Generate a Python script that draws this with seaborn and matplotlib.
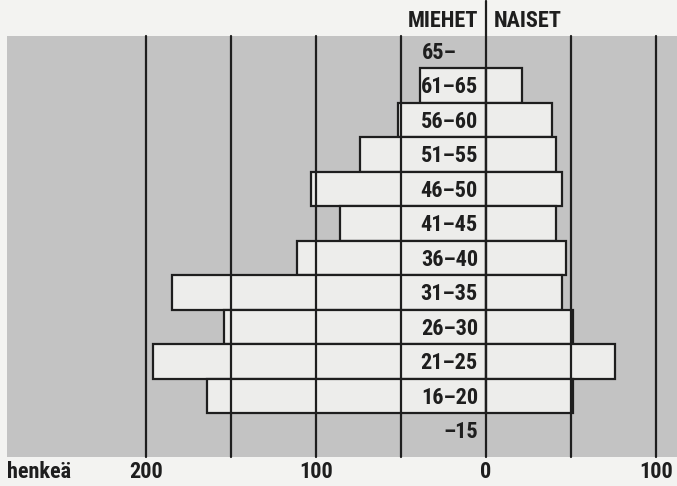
import pandas as pd
import seaborn as sns
import matplotlib.pyplot as plt

# Age groups from the top of the pyramid down
ages = ["65–", "61–65", "56–60", "51–55", "46–50", "41–45",
        "36–40", "31–35", "26–30", "21–25", "16–20", "–15"]
bar_ages = ["61–65", "56–60", "51–55", "46–50", "41–45",
            "36–40", "31–35", "26–30", "21–25", "16–20"]
miehet = [39, 52, 74, 103, 86, 111, 185, 154, 196, 164]
naiset = [21, 39, 41, 45, 41, 47, 45, 51, 76, 51]

grid_x = [-200, -150, -100, -50, 0, 50, 100]
tick_pos = [-200, -100, 0, 100]
tick_labels = ["200", "100", "0", "100"]

sns.set_style("white")
FONT = ["Roboto Condensed", "DejaVu Sans"]
plt.rcParams["font.family"] = FONT

PAPER = "#f3f3f1"
SCREEN = "#c3c3c3"
BAR = "#ededeb"
INK = "#1e1e1e"
FS = 16

df = pd.DataFrame({
    "ika": bar_ages * 2,
    "henkea": [-v for v in miehet] + naiset,
    "sukupuoli": ["M"] * len(miehet) + ["N"] * len(naiset),
})

fig = plt.figure(figsize=(6.77, 4.86), dpi=100, facecolor=PAPER)
ax = fig.add_axes([7 / 677, 29 / 486, 670 / 677, 421 / 486])
ax.set_facecolor(SCREEN)

sns.barplot(data=df, y="ika", x="henkea", hue="sukupuoli", order=ages,
            orient="h", dodge=False, width=1.0, errorbar=None,
            palette={"M": BAR, "N": BAR}, edgecolor=INK, linewidth=1.6,
            legend=False, ax=ax, zorder=2)

ax.set_xlim(-281.8, 112.4)
ax.set_ylim(11.77, -0.435)

for gx in grid_x:
    top = 1.083 if gx == 0 else 1.0
    ax.axvline(gx, ymin=0, ymax=top, color=INK, lw=1.6, zorder=3,
               clip_on=False)

for i, a in enumerate(ages):
    if a == "65–":
        ax.text(-37.6, i + 0.05, a, ha="left", va="center", fontsize=FS,
                fontweight="bold", color=INK, zorder=4)
    else:
        ax.text(-4.7, i + 0.05, a, ha="right", va="center", fontsize=FS,
                fontweight="bold", color=INK, zorder=4)

ax.text(-4.7, -0.88, "MIEHET", ha="right", va="center", fontsize=FS,
        fontweight="bold", color=INK, clip_on=False)
ax.text(4.3, -0.88, "NAISET", ha="left", va="center", fontsize=FS,
        fontweight="bold", color=INK, clip_on=False)

ax.set_xticks(tick_pos)
ax.set_xticklabels(tick_labels, fontsize=FS, fontweight="bold", color=INK)
ax.tick_params(axis="x", length=0, pad=3)
ax.set_yticks([])
ax.set_xlabel("")
ax.set_ylabel("")
ax.text(-281.8, 12.2, "henkeä", ha="left", va="center", fontsize=FS,
        fontweight="bold", color=INK, clip_on=False)

for s in ax.spines.values():
    s.set_visible(False)

fig.savefig("out.png", dpi=100, facecolor=PAPER)
